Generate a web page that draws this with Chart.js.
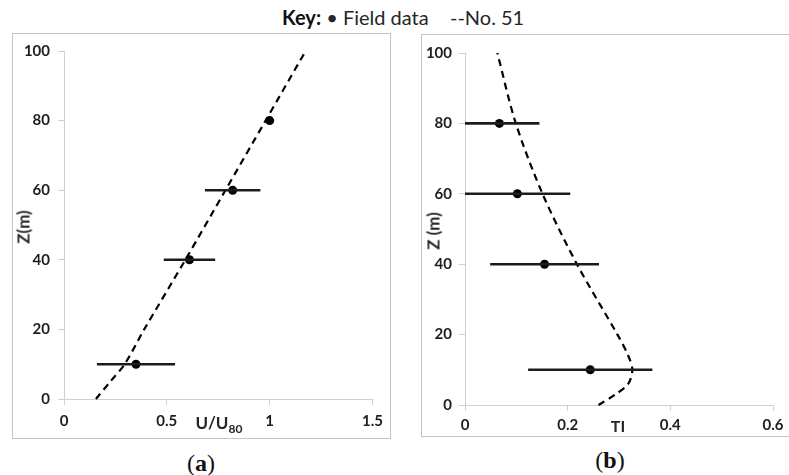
<!DOCTYPE html>
<html><head><meta charset="utf-8">
<script src="https://cdn.jsdelivr.net/npm/chart.js@4/dist/chart.umd.min.js"></script>
<style>
body{margin:0;width:789px;height:475px;background:#fff;position:relative;overflow:hidden;font-family:Lato,"Open Sans",sans-serif;}
.frame{position:absolute;border:1px solid #c4c4c4;}
.frame canvas{display:block;}
.t{position:absolute;white-space:nowrap;color:#262626;}
.c{transform:translate(-50%,-50%);}
.r{transform:translate(-50%,-50%) rotate(-90deg);}
.cap{font-family:"Liberation Serif","DejaVu Serif",serif;font-size:24px;color:#111;}
</style></head><body>
<div class="t" style="left:282px;top:5px;font-size:20px;"><b style="color:#111">Key:</b> <span>• Field data</span></div>
<div class="t" style="left:450px;top:5px;font-size:20px;">--No. 51</div>

<div class="frame" style="left:12px;top:33px;width:377px;height:404px;"><canvas id="ca" width="377" height="404"></canvas></div>
<div class="frame" style="left:421px;top:34px;width:367px;height:401px;"><canvas id="cb" width="367" height="401"></canvas></div>

<div class="t r" style="left:23px;top:227px;font-size:17px;font-weight:bold;">Z(m)</div>
<div class="t r" style="left:433px;top:231px;font-size:17px;font-weight:bold;">Z (m)</div>
<div class="t c" style="left:219px;top:424px;font-size:17px;font-weight:bold;">U/U<sub style="font-size:12px">80</sub></div>
<div class="t c" style="left:618px;top:425px;font-size:16px;font-weight:bold;">TI</div>
<div class="t c cap" style="left:201px;top:463px;">(<b>a</b>)</div>
<div class="t c cap" style="left:610px;top:460px;">(<b>b</b>)</div>

<script>
// ---- data (a) ----
const heightsA = [10, 40, 60, 80];
const uMean    = [0.35, 0.61, 0.82, 1.0];
const uErr     = [0.19, 0.125, 0.135, 0];
const modelZA  = [0, 5, 10, 20, 40, 60, 80, 100];
const modelU   = [0.155, 0.225, 0.295, 0.39, 0.59, 0.785, 0.98, 1.175];
const xTicksA  = [0, 0.5, 1, 1.5];
// ---- data (b) ----
const heightsB = [10, 40, 60, 80];
const tiMean   = [0.244, 0.155, 0.102, 0.067];
const tiErr    = [0.121, 0.106, 0.103, 0.078];
const modelZB  = [0, 3, 6, 10, 14, 20, 40, 60, 80, 100];
const modelTI  = [0.26, 0.293, 0.318, 0.326, 0.318, 0.297, 0.218, 0.151, 0.099, 0.063];
const xTicksB  = [0, 0.2, 0.4, 0.6];
const yTicks   = [0, 20, 40, 60, 80, 100];

Chart.defaults.font.family = 'Lato, "Open Sans", sans-serif';
Chart.defaults.animation = false;

function buildDatasets(zs, means, errs, mz, mx) {
  const ds = [];
  zs.forEach((z, i) => {
    if (errs[i] > 0) ds.push({
      data: [{x: means[i] - errs[i], y: z}, {x: means[i] + errs[i], y: z}],
      showLine: true, pointRadius: 0, borderColor: '#1c1c1c', borderWidth: 2.6, clip: 0
    });
  });
  ds.push({
    data: zs.map((z, i) => ({x: means[i], y: z})),
    showLine: false, pointRadius: 4.5, pointBackgroundColor: '#000', pointBorderWidth: 0
  });
  ds.push({
    data: mz.map((z, i) => ({x: mx[i], y: z})),
    showLine: true, pointRadius: 0, borderColor: '#000', borderWidth: 2.2,
    borderDash: [7, 5], tension: 0.3, clip: 4
  });
  return ds;
}

function makeChart(id, datasets, xmax, xTicks, geo) {
  const tickFont = {size: 15, weight: 'bold'};
  new Chart(document.getElementById(id), {
    type: 'scatter',
    data: {datasets},
    options: {
      responsive: false, devicePixelRatio: 1,
      layout: {padding: {left: 0, right: geo.right, top: geo.top, bottom: 0}},
      plugins: {legend: {display: false}, tooltip: {enabled: false}},
      scales: {
        x: {
          type: 'linear', min: 0, max: xmax,
          afterBuildTicks: s => { s.ticks = xTicks.map(v => ({value: v})); },
          afterFit: s => { s.height = geo.xh; },
          grid: {drawOnChartArea: false, tickLength: 6, color: '#d0d0d0'},
          border: {color: '#d0d0d0'},
          ticks: {font: tickFont, color: '#1e1e1e', padding: geo.xpad, maxRotation: 0, callback: v => String(v)}
        },
        y: {
          type: 'linear', min: 0, max: 100,
          afterBuildTicks: s => { s.ticks = yTicks.map(v => ({value: v})); },
          afterFit: s => { s.width = geo.yw; },
          grid: {drawOnChartArea: false, tickLength: 6, color: '#d0d0d0'},
          border: {color: '#d0d0d0'},
          ticks: {font: tickFont, color: '#1e1e1e', padding: geo.ypad, callback: v => String(v)}
        }
      }
    }
  });
}

makeChart('ca', buildDatasets(heightsA, uMean, uErr, modelZA, modelU), 1.5, xTicksA,
  {right: 16, top: 17, xh: 39, yw: 51, xpad: 7, ypad: 8});
makeChart('cb', buildDatasets(heightsB, tiMean, tiErr, modelZB, modelTI), 0.6, xTicksB,
  {right: 16, top: 18, xh: 31, yw: 43, xpad: 5, ypad: 7});
</script>
</body></html>
